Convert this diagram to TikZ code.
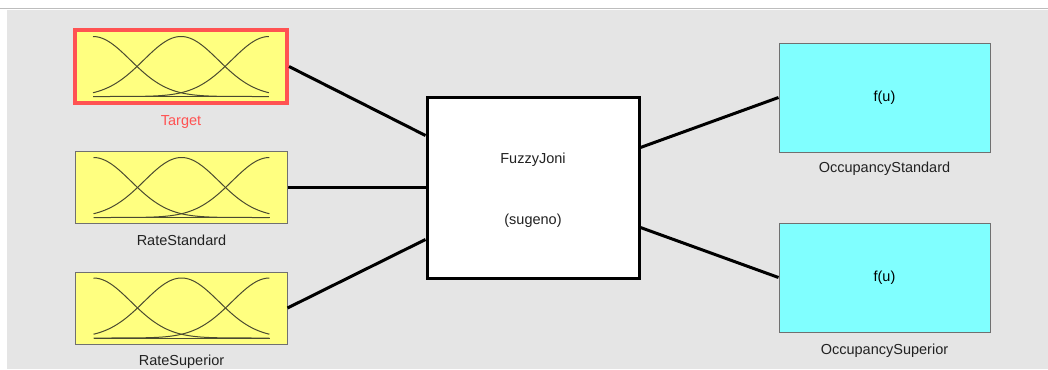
\documentclass[tikz,border=0pt]{standalone}
\usepackage{fontspec}
\setmainfont{Liberation Sans}
\definecolor{bg}{HTML}{E5E5E5}
\definecolor{mfyellow}{HTML}{FFFF80}
\definecolor{outcyan}{HTML}{80FFFF}
\definecolor{selred}{HTML}{FF5252}
\definecolor{edgegray}{HTML}{707070}
\definecolor{topline}{HTML}{BDBDBD}
\definecolor{mfcol}{HTML}{4A4A30}
\begin{document}
\begin{tikzpicture}[x=1bp,y=-1bp,
  lbl/.style={font=\fontsize{14.5bp}{16bp}\selectfont, text=black!87, inner sep=0pt, text height=10bp, text depth=3bp},
  mfbox/.style={draw=edgegray, line width=1bp, fill=mfyellow, inner sep=0pt, minimum width=211bp, minimum height=72bp},
  selbox/.style={draw=selred, line width=4bp, fill=mfyellow, inner sep=0pt, minimum width=212bp, minimum height=73bp},
  outbox/.style={draw=edgegray, line width=1bp, fill=outcyan, inner sep=0pt, minimum width=211bp, minimum height=109bp, font=\fontsize{14.5bp}{16bp}\selectfont},
  fisbox/.style={draw=black, line width=3bp, fill=white, inner sep=0pt, minimum width=212bp, minimum height=181bp},
  conn/.style={draw=black, line width=3bp},
  mfline/.style={draw=mfcol, line width=1bp},
  mfs/.pic={
    \draw[mfline] (-88,30) -- (88,30);
    \foreach \c in {-1,0,1}
      \draw[mfline] plot[domain=-1:1, samples=90, smooth] ({88*\x},{30-60*exp(-(((\x)-(\c))^2)/0.3613)});
  }]
\useasboundingbox (0,0) rectangle (1048,369);
\fill[white] (0,0) rectangle (1048,369);
\fill[bg] (7,10) rectangle (1048,369);
\draw[topline, line width=1.5bp] (0,8.5) -- (1048,8.5);

% input boxes
\node[selbox] (tgt) at (181,66.5) {};
\node[mfbox] (rs) at (181.5,187.5) {};
\node[mfbox] (rsup) at (181.5,308) {};
\pic at (tgt.center) {mfs};
\pic at (rs.center) {mfs};
\pic at (rsup.center) {mfs};
\node[lbl, text=selred] (tgtl) at (181,122) {Target};
\node[lbl] (rsl) at (181.5,242) {RateStandard};
\node[lbl] (rsupl) at (181.5,362) {RateSuperior};

% FIS
\node[fisbox] (fis) at (533,187.5) {};
\node[lbl] (fisname) at (533,159.5) {FuzzyJoni};
\node[lbl] (fistype) at (533,220.5) {(sugeno)};

% outputs
\node[outbox] (o1) at (884.5,97.5) {f(u)};
\node[outbox] (o2) at (884.5,277.5) {f(u)};
\node[lbl] (o1l) at (884.5,169) {OccupancyStandard};
\node[lbl] (o2l) at (884.5,350.5) {OccupancySuperior};

% connectors
\draw[conn] (tgt.east) -- ([yshift=52bp]fis.west);
\draw[conn] (rs.east) -- (fis.west);
\draw[conn] (rsup.east) -- ([yshift=-52bp]fis.west);
\draw[conn] ([yshift=40bp]fis.east) -- (o1.west);
\draw[conn] ([yshift=-40bp]fis.east) -- (o2.west);
\end{tikzpicture}
\end{document}
